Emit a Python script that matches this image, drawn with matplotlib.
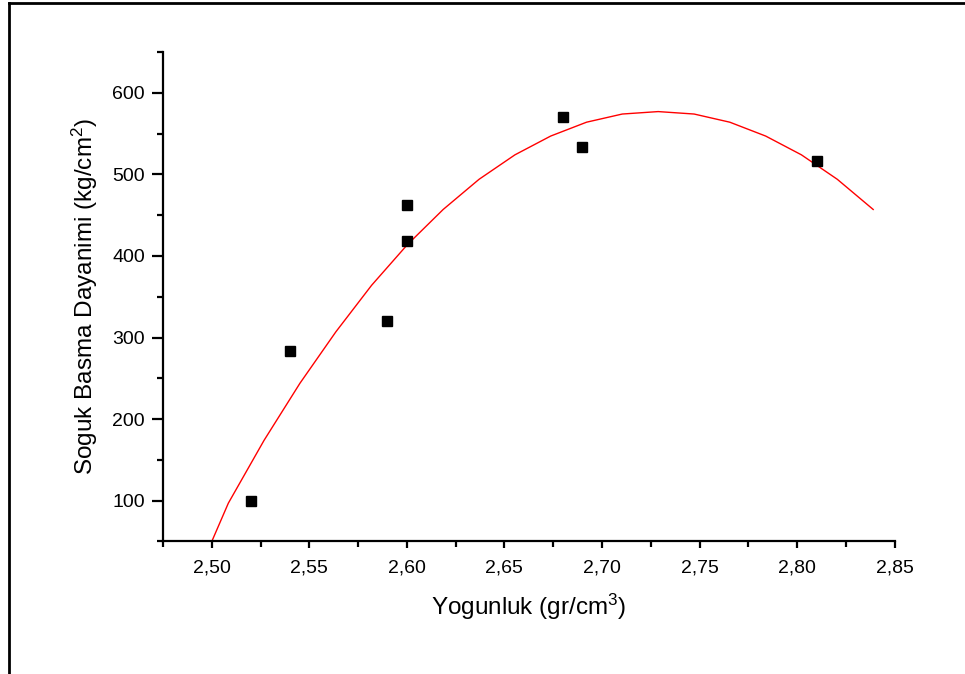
import matplotlib
matplotlib.use("Agg")
import matplotlib.pyplot as plt
from matplotlib.lines import Line2D
from matplotlib.ticker import MultipleLocator, FuncFormatter

plt.rcParams['font.family'] = ['Liberation Sans', 'DejaVu Sans']
plt.rcParams['mathtext.fontset'] = 'custom'
plt.rcParams['mathtext.rm'] = 'Liberation Sans'
plt.rcParams['mathtext.it'] = 'Liberation Sans:italic'

# measured points
yogunluk = [2.52, 2.54, 2.59, 2.60, 2.60, 2.68, 2.69, 2.81]
dayanim = [100, 284, 320, 462, 418, 570, 533, 517]

# fitted curve as drawn (vertices)
fit_x = [2.500, 2.5085, 2.5268, 2.5452, 2.5636, 2.5819, 2.6003, 2.6186, 2.6370,
         2.6554, 2.6737, 2.6921, 2.7104, 2.7288, 2.7472, 2.7655, 2.7839, 2.8022,
         2.8206, 2.8390]
fit_y = [50, 97, 174, 244, 307, 364, 414, 457, 494,
         524, 547, 564, 574, 577, 574, 564, 547, 524,
         494, 457]

fig = plt.figure(figsize=(9.65, 6.74), dpi=100)
ax = fig.add_axes([0.1689, 0.1966, 0.9271 - 0.1689, 0.9228 - 0.1966])

ax.plot(fit_x, fit_y, color='red', lw=1.0)
ax.plot(yogunluk, dayanim, 's', color='black', ms=7.7, mec='black')

ax.set_xlim(2.475, 2.85)
ax.set_ylim(50, 650)

ax.spines['top'].set_visible(False)
ax.spines['right'].set_visible(False)
ax.spines['left'].set_linewidth(1.6)
ax.spines['bottom'].set_linewidth(1.6)

ax.xaxis.set_major_locator(MultipleLocator(0.05))
ax.xaxis.set_minor_locator(MultipleLocator(0.025))
ax.yaxis.set_major_locator(MultipleLocator(100))
ax.yaxis.set_minor_locator(MultipleLocator(50))
ax.xaxis.set_major_formatter(FuncFormatter(lambda v, p: f"{v:.2f}".replace('.', ',')))
ax.yaxis.set_major_formatter(FuncFormatter(lambda v, p: f"{v:.0f}"))

ax.tick_params(axis='x', which='major', direction='out', length=5, width=1.6,
               labelsize=14, pad=8)
ax.tick_params(axis='x', which='minor', direction='out', length=4, width=1.6)
ax.tick_params(axis='y', which='major', direction='out', length=8, width=1.6,
               labelsize=14, pad=5)
ax.tick_params(axis='y', which='minor', direction='out', length=4, width=1.6)

ax.set_xlabel(r'Yogunluk (gr/cm$^{\mathregular{3}}$)', fontsize=17.5, labelpad=11)
ax.set_ylabel(r'Soguk Basma Dayanimi (kg/cm$^{\mathregular{2}}$)', fontsize=17.5,
              labelpad=9)

# outer frame (top and left edges)
fig.add_artist(Line2D([9 / 965, 9 / 965], [0, 1 - 3 / 674], transform=fig.transFigure,
                      color='black', lw=2))
fig.add_artist(Line2D([9 / 965, 1], [1 - 3 / 674, 1 - 3 / 674], transform=fig.transFigure,
                      color='black', lw=2))

fig.savefig('out.png', dpi=100)
